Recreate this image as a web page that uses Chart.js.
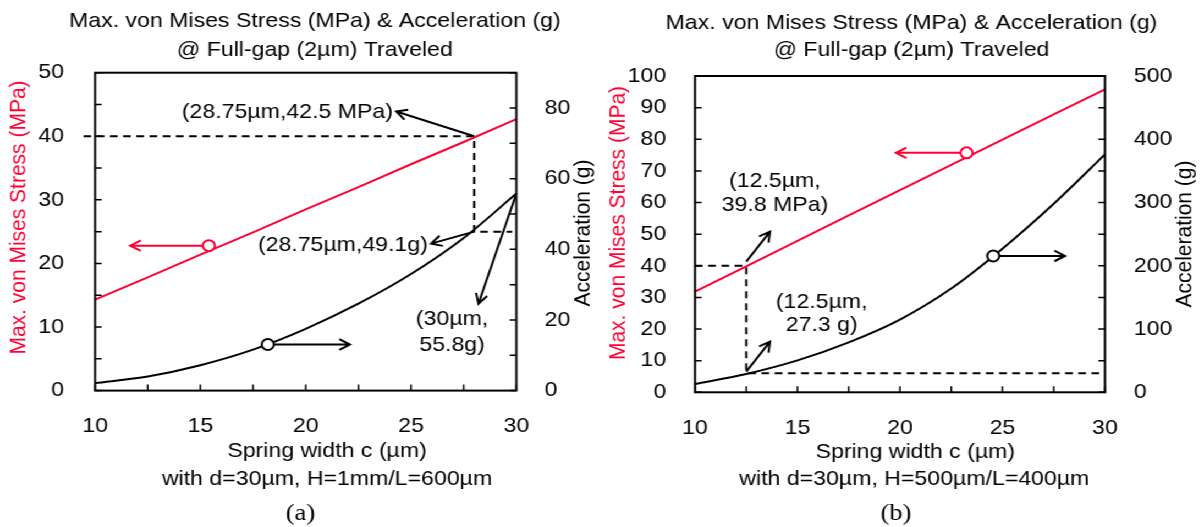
<!DOCTYPE html>
<html>
<head>
<meta charset="utf-8">
<script src="https://cdn.jsdelivr.net/npm/chart.js@4.4.1/dist/chart.umd.min.js"></script>
<style>
  html, body { margin: 0; padding: 0; background: #fff; }
  /* the source figure is stretched sideways, so draw narrower and widen */
  #wrap { position: absolute; left: 0; top: 0; width: 1093px; height: 527px; transform: scaleX(1.1); transform-origin: 0 0; }
  #wrap canvas { position: absolute; top: 0; }
</style>
</head>
<body>
<div id="wrap">
  <canvas id="chartA" width="545" height="527" style="left:0"></canvas>
  <canvas id="chartB" width="548" height="527" style="left:545px"></canvas>
</div>
<script>
// spring width c (um) sampled along both curves
const springWidth = [10, 12.5, 15, 17.5, 20, 22.5, 25, 27.5, 30];

// (a) d=30um, H=1mm, L=600um
const stressA = [14.3, 17.8, 21.4, 24.9, 28.5, 32.0, 35.6, 39.1, 42.7];
const accelA = [2.1, 4.0, 7.2, 11.6, 17.5, 24.6, 33.0, 43.2, 55.8];

// (b) d=30um, H=500um, L=400um
const stressB = [31.8, 39.8, 47.9, 55.9, 63.9, 71.9, 79.9, 87.9, 95.8];
const accelB = [13, 29, 50.5, 79, 115, 164, 227, 298, 376];

// labelled tick values
const xTickLabels = [10, 15, 20, 25, 30];
const stressTicksA = [0, 10, 20, 30, 40, 50];
const accelTicksA = [0, 20, 40, 60, 80];
const stressTicksB = [0, 10, 20, 30, 40, 50, 60, 70, 80, 90, 100];
const accelTicksB = [0, 100, 200, 300, 400, 500];

// dashed read-off lines (on the stress axis) and the round markers
const guideA = [{x: 9.45, y: 40}, {x: 28, y: 40}, {x: 28, y: 25}, {x: 29.8, y: 25}];
const guideB = [{x: 10, y: 40}, {x: 12.5, y: 40}, {x: 12.5, y: 6}, {x: 30, y: 6}];
const stressMarkA = [{x: 15.4, y: 22.8}];
const accelMarkA = [{x: 18.2, y: 13.05}];
const stressMarkB = [{x: 23.25, y: 75.7}];
const accelMarkB = [{x: 24.55, y: 215.5}];

const RED = '#ff0033';
const FONT = "'Liberation Sans', Arial, sans-serif";
const SIZE = 21;
const SERIF = "24px 'Liberation Serif', 'Times New Roman', serif";

Chart.defaults.font.family = FONT;
Chart.defaults.font.size = SIZE;
Chart.defaults.color = '#000';

const pts = (xs, ys) => xs.map((x, i) => ({x: x, y: ys[i]}));

// frame, inward ticks, arrows, value notes and captions
const figurePlugin = {
  id: 'figure',
  afterDatasetsDraw(chart, args, opts) {
    const ctx = chart.ctx;
    const {left, right, top, bottom} = chart.chartArea;
    const sx = chart.scales.x;
    ctx.save();
    ctx.strokeStyle = '#000';
    ctx.lineWidth = 2;
    ctx.strokeRect(left, top, right - left, bottom - top);

    ctx.lineWidth = 1.5;
    ctx.beginPath();
    sx.ticks.forEach(t => {
      const p = sx.getPixelForValue(t.value);
      ctx.moveTo(p, bottom);
      ctx.lineTo(p, bottom - 6);
    });
    [['y', left, 1], ['y1', right, -1]].forEach(([id, x0, dir]) => {
      const s = chart.scales[id];
      s.ticks.forEach(t => {
        const p = s.getPixelForValue(t.value);
        ctx.moveTo(x0, p);
        ctx.lineTo(x0 + dir * 6, p);
      });
    });
    ctx.stroke();

    ctx.lineWidth = 2;
    opts.arrows.forEach(a => {
      const s = chart.scales[a.axis];
      const x1 = sx.getPixelForValue(a.from[0]), y1 = s.getPixelForValue(a.from[1]);
      const x2 = sx.getPixelForValue(a.to[0]), y2 = s.getPixelForValue(a.to[1]);
      const ang = Math.atan2(y2 - y1, x2 - x1), L = 11, w = 0.5;
      ctx.strokeStyle = a.color || '#000';
      ctx.beginPath();
      ctx.moveTo(x1, y1);
      ctx.lineTo(x2, y2);
      ctx.moveTo(x2 - L * Math.cos(ang - w), y2 - L * Math.sin(ang - w));
      ctx.lineTo(x2, y2);
      ctx.lineTo(x2 - L * Math.cos(ang + w), y2 - L * Math.sin(ang + w));
      ctx.stroke();
    });

    ctx.fillStyle = '#000';
    ctx.font = SIZE + 'px ' + FONT;
    ctx.textBaseline = 'middle';
    opts.notes.forEach(n => {
      ctx.textAlign = n.align || 'center';
      ctx.fillText(n.text, sx.getPixelForValue(n.x), chart.scales[n.axis].getPixelForValue(n.y));
    });

    opts.captions.forEach(c => {
      ctx.save();
      ctx.translate(c.x, c.y);
      if (c.rotate) ctx.rotate(-Math.PI / 2);
      ctx.fillStyle = c.color || '#000';
      ctx.font = c.font || (SIZE + 'px ' + FONT);
      ctx.textAlign = 'center';
      ctx.fillText(c.text, 0, 0);
      ctx.restore();
    });
    ctx.restore();
  }
};

function makeChart(id, d) {
  const mark = (data, axis, color) => ({
    data: data, yAxisID: axis, showLine: false, borderColor: color,
    pointRadius: 5.5, pointBorderWidth: 2, pointBorderColor: color,
    pointBackgroundColor: '#fff', order: 1
  });
  return new Chart(document.getElementById(id), {
    type: 'line',
    data: {
      datasets: [
        {data: pts(springWidth, d.stress), yAxisID: 'y', borderColor: RED, borderWidth: 2, pointRadius: 0, order: 2},
        {data: pts(springWidth, d.accel), yAxisID: 'y1', borderColor: '#000', borderWidth: 2, pointRadius: 0,
         tension: 0.3, order: 2},
        {data: d.guide, yAxisID: 'y', borderColor: '#000', borderWidth: 2, borderDash: [7, 5], pointRadius: 0,
         clip: false, order: 3},
        mark(d.stressMark, 'y', RED),
        mark(d.accelMark, 'y1', '#000')
      ]
    },
    options: {
      responsive: false,
      animation: false,
      events: [],
      layout: {padding: {top: d.top, left: 0, right: 0, bottom: 0}},
      plugins: {
        legend: {display: false},
        tooltip: {enabled: false},
        figure: {arrows: d.arrows, notes: d.notes, captions: d.captions}
      },
      scales: {
        x: {
          type: 'linear', min: 10, max: 30,
          grid: {display: false}, border: {display: false},
          ticks: {stepSize: 2.5, autoSkip: false, maxRotation: 0, padding: 15,
                  callback: v => xTickLabels.includes(v) ? v : ''},
          afterFit: s => { s.height = d.xH; }
        },
        y: {
          position: 'left', min: 0, max: d.yMax,
          grid: {display: false}, border: {display: false},
          ticks: {stepSize: d.yStep, autoSkip: false, padding: d.padL,
                  callback: v => d.yTicks.includes(v) ? v : ''},
          afterFit: s => { s.width = d.leftW; }
        },
        y1: {
          position: 'right', min: 0, max: d.y1Max,
          grid: {display: false}, border: {display: false},
          ticks: {stepSize: d.y1Step, autoSkip: false, padding: d.padR,
                  callback: v => d.y1Ticks.includes(v) ? v : ''},
          afterFit: s => { s.width = d.rightW; }
        }
      }
    },
    plugins: [figurePlugin]
  });
}

makeChart('chartA', {
  stress: stressA, accel: accelA, guide: guideA, stressMark: stressMarkA, accelMark: accelMarkA,
  yMax: 50, yStep: 5, yTicks: stressTicksA, y1Max: 90, y1Step: 10, y1Ticks: accelTicksA,
  top: 72.7, leftW: 86.4, rightW: 75.6, xH: 136.4, padL: 20.3, padR: 17.7,
  arrows: [
    {from: [28, 40], to: [24.3, 43.9], axis: 'y'},
    {from: [28, 45], to: [25.95, 41.6], axis: 'y1'},
    {from: [30, 55.8], to: [28.2, 24.6], axis: 'y1'},
    {from: [15.1, 22.8], to: [11.67, 22.8], axis: 'y', color: RED},
    {from: [18.5, 13.05], to: [22.1, 13.05], axis: 'y1'}
  ],
  notes: [
    {text: '(28.75µm,42.5 MPa)', x: 24.14, y: 43.85, axis: 'y', align: 'right'},
    {text: '(28.75µm,49.1g)', x: 25.8, y: 41.3, axis: 'y1', align: 'right'},
    {text: '(30µm,', x: 26.95, y: 20.2, axis: 'y1'},
    {text: '55.8g)', x: 26.95, y: 12.9, axis: 'y1'}
  ],
  captions: [
    {text: 'Max. von Mises Stress (MPa) & Acceleration (g)', x: 286.2, y: 21.5},
    {text: '@ Full-gap (2µm) Traveled', x: 286.2, y: 50},
    {text: 'Spring width c (µm)', x: 297.3, y: 451},
    {text: 'with d=30µm, H=1mm/L=600µm', x: 297.3, y: 479},
    {text: '(a)', x: 273.1, y: 514, font: SERIF},
    {text: 'Max. von Mises Stress (MPa)', x: 17.3, y: 217.5, rotate: true, color: RED},
    {text: 'Acceleration (g)', x: 530.5, y: 233, rotate: true}
  ]
});

makeChart('chartB', {
  stress: stressB, accel: accelB, guide: guideB, stressMark: stressMarkB, accelMark: accelMarkB,
  yMax: 100, yStep: 10, yTicks: stressTicksB, y1Max: 500, y1Step: 50, y1Ticks: accelTicksB,
  top: 76, leftW: 86.8, rightW: 88.5, xH: 134.7, padL: 18.2, padR: 18.2,
  arrows: [
    {from: [12.5, 41.3], to: [13.66, 50.8], axis: 'y'},
    {from: [12.5, 32.6], to: [13.66, 80], axis: 'y1'},
    {from: [22.95, 75.7], to: [19.8, 75.7], axis: 'y', color: RED},
    {from: [24.85, 215.5], to: [28.05, 215.5], axis: 'y1'}
  ],
  notes: [
    {text: '(12.5µm,', x: 13.9, y: 66.6, axis: 'y'},
    {text: '39.8 MPa)', x: 13.9, y: 59.2, axis: 'y'},
    {text: '(12.5µm,', x: 16.18, y: 143.2, axis: 'y1'},
    {text: '27.3 g)', x: 16.18, y: 106.4, axis: 'y1'}
  ],
  captions: [
    {text: 'Max. von Mises Stress (MPa) & Acceleration (g)', x: 283.6, y: 23},
    {text: '@ Full-gap (2µm) Traveled', x: 283.6, y: 50},
    {text: 'Spring width c (µm)', x: 287.1, y: 452.5},
    {text: 'with d=30µm, H=500µm/L=400µm', x: 286.2, y: 479},
    {text: '(b)', x: 269.5, y: 514, font: SERIF},
    {text: 'Max. von Mises Stress (MPa)', x: 17.7, y: 223, rotate: true, color: RED},
    {text: 'Acceleration (g)', x: 531.9, y: 234, rotate: true}
  ]
});
</script>
</body>
</html>
